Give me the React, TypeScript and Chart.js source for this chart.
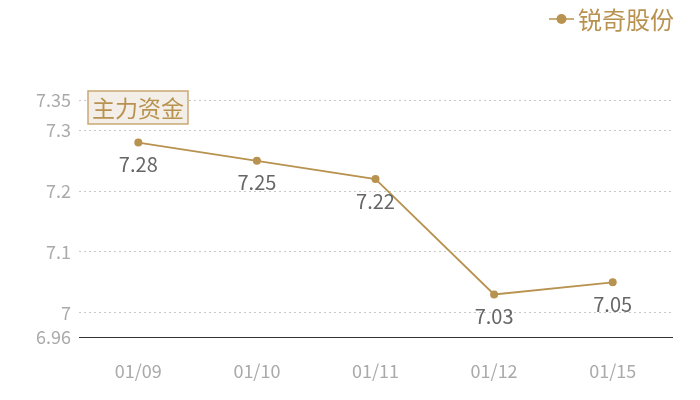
import { Chart, registerables } from "chart.js";
import { useEffect, useRef } from "react";

Chart.register(...registerables);

const categories = ["01/09", "01/10", "01/11", "01/12", "01/15"];
const prices = [7.28, 7.25, 7.22, 7.03, 7.05];
const yTicks = [6.96, 7, 7.1, 7.2, 7.3, 7.35];
const seriesName = "锐奇股份";
const boxTitle = "主力资金";

const GOLD = "#b8924f";
const FONT = "'Noto Sans CJK SC', 'Noto Sans', sans-serif";

const decorPlugin = {
	id: "decor",
	afterDatasetsDraw(chart: any) {
		const ctx = chart.ctx;
		const meta = chart.getDatasetMeta(0);
		ctx.save();
		// value labels under each point
		ctx.font = `20px ${FONT}`;
		ctx.fillStyle = "#666";
		ctx.textAlign = "center";
		ctx.textBaseline = "middle";
		meta.data.forEach((pt: any, i: number) => {
			ctx.fillText(prices[i].toFixed(2), pt.x, pt.y + 22);
		});

		// boxed title
		ctx.fillStyle = "rgba(243,238,231,1)";
		ctx.fillRect(88, 91, 100, 33);
		ctx.strokeStyle = "#c9a874";
		ctx.lineWidth = 1.5;
		ctx.strokeRect(88, 91, 100, 33);
		ctx.font = `23px ${FONT}`;
		ctx.fillStyle = GOLD;
		ctx.fillText(boxTitle, 138, 108);

		// legend
		ctx.strokeStyle = GOLD;
		ctx.lineWidth = 1.5;
		ctx.beginPath();
		ctx.moveTo(549, 19);
		ctx.lineTo(574, 19);
		ctx.stroke();
		ctx.beginPath();
		ctx.arc(561.5, 19, 5, 0, Math.PI * 2);
		ctx.fillStyle = GOLD;
		ctx.fill();
		ctx.font = `24px ${FONT}`;
		ctx.textAlign = "left";
		ctx.fillText(seriesName, 578, 20);
		ctx.restore();
	},
};

export default function App() {
	const canvasRef = useRef<HTMLCanvasElement>(null);
	const chartRef = useRef<Chart | null>(null);

	useEffect(() => {
		if (!canvasRef.current) return;
		if (chartRef.current) chartRef.current.destroy();

		chartRef.current = new Chart(canvasRef.current, {
			type: "line",
			data: {
				labels: categories,
				datasets: [
					{
						label: seriesName,
						data: prices,
						borderColor: GOLD,
						backgroundColor: GOLD,
						borderWidth: 1.8,
						pointRadius: 4,
						pointBackgroundColor: GOLD,
						pointBorderWidth: 0,
						tension: 0,
					},
				],
			},
			options: {
				animation: false,
				responsive: false,
				layout: { padding: { top: 100, right: 28, left: 0, bottom: 0 } },
				plugins: {
					legend: { display: false },
					tooltip: { enabled: false },
				},
				scales: {
					x: {
						offset: true,
						grid: { display: false, drawTicks: false },
						border: { display: true, color: "#333", width: 1 },
						ticks: {
							color: "#aaa",
							font: { size: 18, family: FONT },
							padding: 23,
						},
						afterFit: (axis: any) => {
							axis.height = 63;
						},
					},
					y: {
						min: 6.96,
						max: 7.35,
						afterBuildTicks: (axis: any) => {
							axis.ticks = yTicks.map((v) => ({ value: v }));
						},
						grid: {
							drawTicks: false,
							color: (c: any) =>
								c.tick && c.tick.value === 6.96 ? "rgba(0,0,0,0)" : "#c8c8c8",
							lineWidth: 1,
						},
						border: { display: false, dash: [2, 3] },
						ticks: {
							color: "#aaa",
							font: { size: 18, family: FONT },
							padding: 8,
							callback: (v: any) => String(v),
						},
						afterFit: (axis: any) => {
							axis.width = 79;
						},
					},
				},
			},
			plugins: [decorPlugin],
		});

		return () => {
			chartRef.current?.destroy();
		};
	}, []);

	return (
		<div
			style={{
				position: "fixed",
				left: 0,
				top: 0,
				width: 700,
				height: 400,
				background: "#fff",
			}}
		>
			<canvas ref={canvasRef} width={700} height={400} />
		</div>
	);
}
